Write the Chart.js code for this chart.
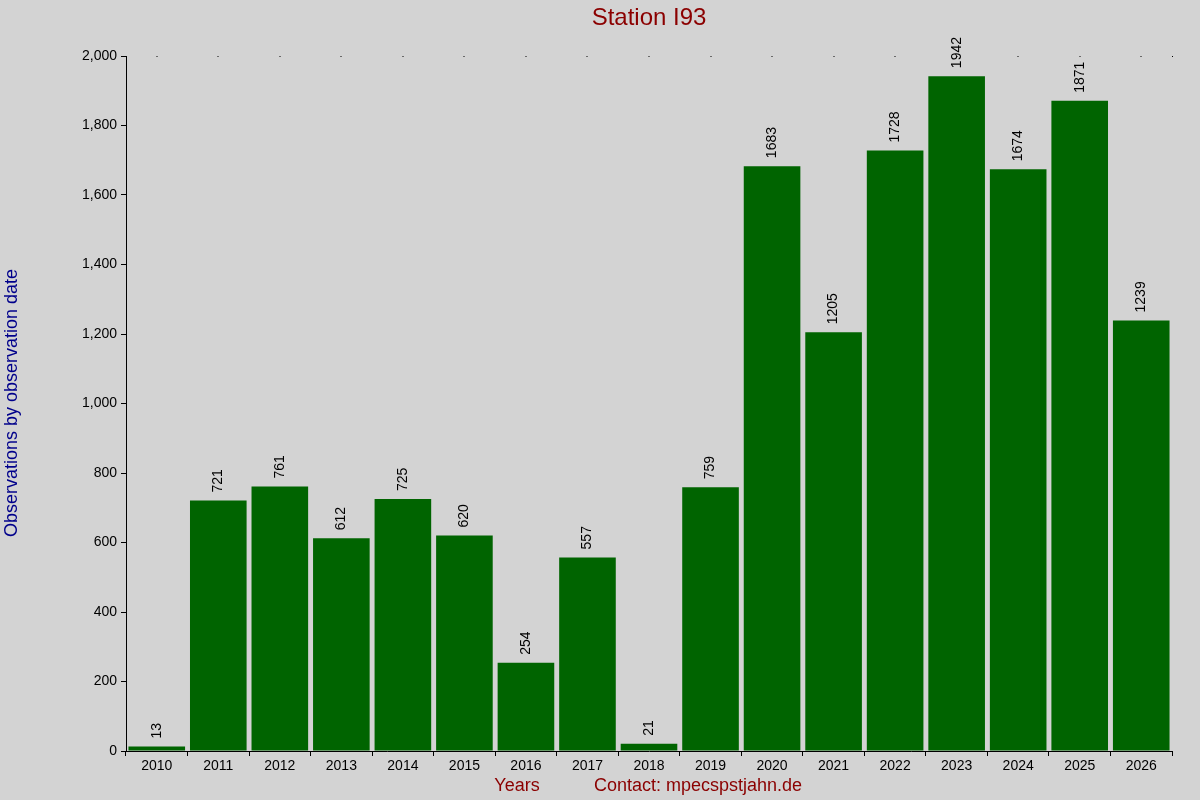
<!DOCTYPE html>
<html><head><meta charset="utf-8">
<script src="https://cdn.jsdelivr.net/npm/chart.js@4"></script>
<style>html,body{margin:0;background:#d3d3d3;}#w{width:1200px;height:800px;}</style>
</head><body><div id="w"><canvas id="c"></canvas></div>
<script>
const years = ["2010","2011","2012","2013","2014","2015","2016","2017","2018","2019","2020","2021","2022","2023","2024","2025","2026"];
const counts = [13,721,761,612,725,620,254,557,21,759,1683,1205,1728,1942,1674,1871,1239];
const yTicks = [0,200,400,600,800,1000,1200,1400,1600,1800,2000];
const FONT = "'Liberation Sans', Arial, sans-serif";
const deco = {
  id:'deco',
  afterDatasetsDraw(chart){
    const {ctx, chartArea:a, scales:{x,y}} = chart;
    ctx.save();
    ctx.fillStyle='#000';
    ctx.font='14px '+FONT;
    const meta = chart.getDatasetMeta(0);
    meta.data.forEach((b,i)=>{
      ctx.save();
      ctx.translate(b.x+5, b.y-8);
      ctx.rotate(-Math.PI/2);
      ctx.textAlign='left'; ctx.textBaseline='middle';
      ctx.fillText(String(counts[i]),0,-5);
      ctx.restore();
      ctx.fillRect(Math.round(b.x)-0.5, a.top, 1, 1);
    });
    ctx.fillRect(a.right, a.top, 1, 1);
    ctx.textAlign='center'; ctx.textBaseline='middle';
    ctx.fillStyle='#8b0000';
    ctx.font='24px '+FONT;
    ctx.fillText('Station I93',(a.left+a.right)/2,18);
    ctx.font='18px '+FONT;
    ctx.fillText('Years',517,786);
    ctx.fillText('Contact: mpecspstjahn.de',698,786);
    ctx.save();
    ctx.fillStyle='#00008b';
    ctx.translate(12,403); ctx.rotate(-Math.PI/2);
    ctx.fillText('Observations by observation date',0,0);
    ctx.restore();
    ctx.restore();
  }
};
new Chart(document.getElementById('c'),{
  type:'bar',
  data:{labels:years,datasets:[{data:counts,backgroundColor:'#006400',categoryPercentage:1,barPercentage:0.92}]},
  options:{
    responsive:true,maintainAspectRatio:false,animation:false,
    layout:{padding:{top:56,right:28,left:0,bottom:0}},
    plugins:{legend:{display:false},tooltip:{enabled:false}},
    scales:{
      x:{grid:{drawOnChartArea:false,tickLength:5,color:'#000'},border:{color:'#000'},
         ticks:{color:'#000',font:{size:14,family:FONT},maxRotation:0,padding:2},
         afterFit(s){s.height=49;}},
      y:{min:0,max:2000,afterBuildTicks(s){s.ticks=yTicks.map(v=>({value:v}));},
         grid:{drawOnChartArea:false,tickLength:5,color:'#000'},border:{color:'#000'},
         ticks:{color:'#000',font:{size:14,family:FONT},padding:4},
         afterFit(s){s.width=126;}}
    }
  },
  plugins:[deco]
});
</script></body></html>
